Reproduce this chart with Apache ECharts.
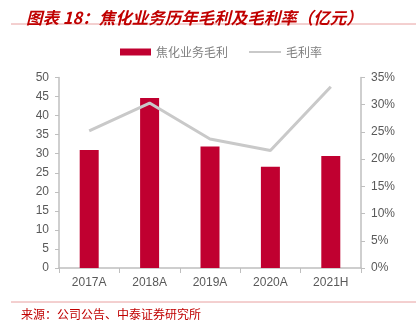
<!DOCTYPE html>
<html><head><meta charset="utf-8">
<script src="https://cdn.jsdelivr.net/npm/echarts@6/dist/echarts.min.js"></script>
<style>html,body{margin:0;padding:0;background:#fff}#c{width:419px;height:330px}</style>
</head><body><div id="c"></div>
<script>
var categories = ['2017A','2018A','2019A','2020A','2021H'];
var grossProfit = [31.0, 44.6, 31.9, 26.6, 29.4];
var grossMargin = [25.2, 30.3, 23.7, 21.6, 33.3];
var leftTicks = {min:0, max:50, interval:5};
var rightTicks = {min:0, max:35, interval:5};

var chart = echarts.init(document.getElementById('c'));
var axisColor = '#BFBFBF', labelColor = '#595959';
var legendText = {color:'#7F7F7F', fontSize:12, fontFamily:'Noto Sans CJK SC'};
chart.setOption({
  animation:false,
  title:{text:'图表 18：焦化业务历年毛利及毛利率（亿元）', left:21, top:4,
    textStyle:{color:'#C00000', fontSize:16.5, fontWeight:'bold', fontStyle:'italic', fontFamily:'Noto Sans CJK SC'}},
  legend:[
    {top:41, left:115, itemWidth:31, itemHeight:7, textStyle:legendText,
      data:[{name:'焦化业务毛利', icon:'rect'}]},
    {top:41, left:243, itemWidth:32, itemHeight:7, textStyle:legendText,
      data:[{name:'毛利率', itemStyle:{opacity:0}}]}
  ],
  grid:{left:59, right:58, top:77.5, bottom:62},
  xAxis:{type:'category', data:categories,
    axisLine:{lineStyle:{color:axisColor, width:1.5}},
    axisTick:{show:true, alignWithLabel:false, length:5, lineStyle:{color:axisColor}},
    axisLabel:{color:labelColor, fontSize:12, margin:9, fontFamily:'Liberation Sans'}},
  yAxis:[
    {type:'value', min:leftTicks.min, max:leftTicks.max, interval:leftTicks.interval,
      axisLine:{show:true, lineStyle:{color:axisColor, width:1.5}},
      axisTick:{show:true, length:4, lineStyle:{color:axisColor}},
      splitLine:{show:false},
      axisLabel:{color:labelColor, fontSize:12, margin:10, fontFamily:'Liberation Sans'}},
    {type:'value', min:rightTicks.min, max:rightTicks.max, interval:rightTicks.interval, position:'right',
      axisLine:{show:true, lineStyle:{color:axisColor, width:1.5}},
      axisTick:{show:true, length:4, lineStyle:{color:axisColor}},
      splitLine:{show:false},
      axisLabel:{color:labelColor, fontSize:12, margin:10, formatter:'{value}%', fontFamily:'Liberation Sans'}}
  ],
  series:[
    {name:'焦化业务毛利', type:'bar', data:grossProfit, barWidth:19,
      itemStyle:{color:'#C00030'}},
    {name:'毛利率', type:'line', yAxisIndex:1, data:grossMargin, symbol:'none',
      lineStyle:{color:'#C9C9C9', width:3}, itemStyle:{color:'#C9C9C9'}}
  ],
  graphic:[
    {type:'line', shape:{x1:11, y1:24, x2:416, y2:24}, style:{stroke:'#E8A0A0', lineWidth:1}},
    {type:'line', shape:{x1:11, y1:302, x2:416, y2:302}, style:{stroke:'#E8A0A0', lineWidth:1}},
    {type:'text', left:21, top:308, style:{text:'来源：公司公告、中泰证券研究所', fill:'#C00000', fontSize:12, fontFamily:'Noto Sans CJK SC'}}
  ]
});
</script></body></html>
